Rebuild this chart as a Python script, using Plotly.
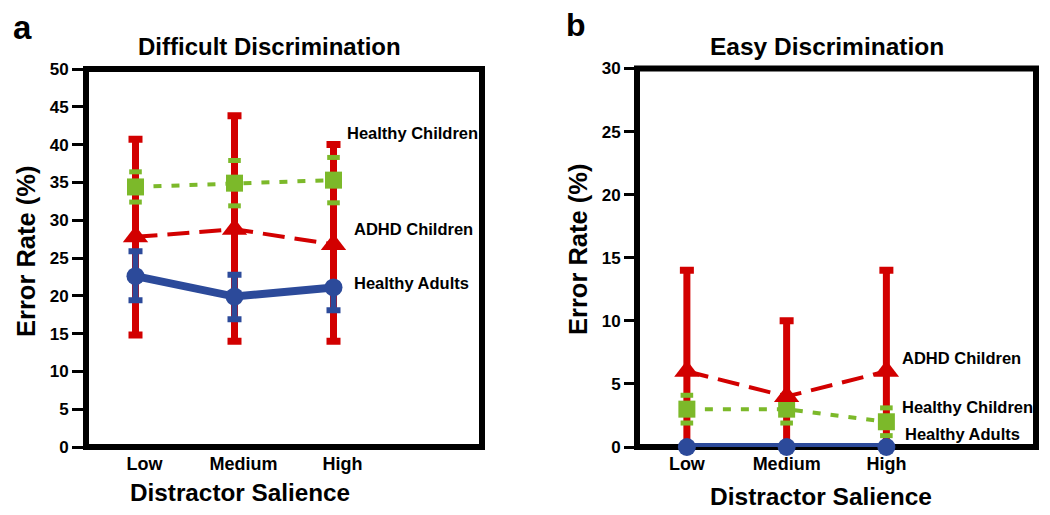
import plotly.graph_objects as go

# ---------------- data ----------------
categories = ["Low", "Medium", "High"]

# Panel a: Difficult Discrimination
hc_diff = [34.4, 34.9, 35.3]
hc_diff_err = [2.0, 3.0, 3.0]
adhd_diff = [27.8, 28.8, 26.8]
adhd_diff_plus = [12.9, 15.0, 13.2]
adhd_diff_minus = [13.0, 14.8, 12.8]
ha_diff = [22.6, 19.9, 21.1]
ha_diff_plus = [3.3, 2.9, 0.0]
ha_diff_minus = [3.2, 3.0, 3.0]

# Panel b: Easy Discrimination
hc_easy = [3.0, 3.0, 2.0]
hc_easy_err = [1.1, 1.1, 1.1]
adhd_easy = [6.0, 4.0, 6.0]
adhd_easy_plus = [8.0, 6.0, 8.0]
adhd_easy_minus = [6.0, 4.0, 6.0]
ha_easy = [0.0, 0.0, 0.0]

y_ticks_a = list(range(0, 51, 5))
y_ticks_b = list(range(0, 31, 5))

RED = "#D20000"
GREEN = "#7CB92A"
BLUE = "#2C4A9A"
FONT = "Liberation Sans"

W, H = 1050, 515
OFF = 8  # page body margin


def px(x):
    return (x - OFF) / W


def py(y):
    return 1 - (y - OFF) / H


fig = go.Figure()


def add_panel(xa, ya, hc, hc_err, adhd, adhd_p, adhd_m, ha, ha_p, ha_m):
    # ADHD error bars (bottom layer)
    fig.add_trace(go.Scatter(
        x=categories, y=adhd, mode="markers", xaxis=xa, yaxis=ya,
        marker=dict(size=1, color="rgba(0,0,0,0)"),
        error_y=dict(type="data", symmetric=False, array=adhd_p, arrayminus=adhd_m,
                     color=RED, thickness=7, width=7),
        showlegend=False, hoverinfo="skip", cliponaxis=False))
    # Healthy children line + squares
    fig.add_trace(go.Scatter(
        x=categories, y=hc, mode="lines+markers", xaxis=xa, yaxis=ya,
        line=dict(color=GREEN, width=4, dash="8px,10px"),
        marker=dict(symbol="square", size=17, color=GREEN),
        showlegend=False, cliponaxis=False))
    # Healthy children caps (dotted error bar ends)
    caps_x = categories + categories
    caps_y = [v + e for v, e in zip(hc, hc_err)] + [v - e for v, e in zip(hc, hc_err)]
    fig.add_trace(go.Scatter(
        x=caps_x, y=caps_y, mode="markers", xaxis=xa, yaxis=ya,
        marker=dict(symbol="line-ew", size=9, line=dict(color=GREEN, width=5)),
        showlegend=False, hoverinfo="skip", cliponaxis=False))
    # Healthy adults
    err = None
    if ha_p is not None:
        err = dict(type="data", symmetric=False, array=ha_p, arrayminus=ha_m,
                   color=BLUE, thickness=6, width=7)
    fig.add_trace(go.Scatter(
        x=categories, y=ha, mode="lines+markers", xaxis=xa, yaxis=ya,
        line=dict(color=BLUE, width=8),
        marker=dict(symbol="circle", size=18, color=BLUE),
        error_y=err, showlegend=False, cliponaxis=False))
    # ADHD line + triangles (top)
    fig.add_trace(go.Scatter(
        x=categories, y=adhd, mode="lines+markers", xaxis=xa, yaxis=ya,
        line=dict(color=RED, width=4, dash="22px,10px"),
        marker=dict(symbol="triangle-up", size=22, color=RED),
        showlegend=False, cliponaxis=False))


add_panel("x", "y", hc_diff, hc_diff_err, adhd_diff, adhd_diff_plus, adhd_diff_minus,
          ha_diff, ha_diff_plus, ha_diff_minus)
add_panel("x2", "y2", hc_easy, hc_easy_err, adhd_easy, adhd_easy_plus, adhd_easy_minus,
          ha_easy, None, None)

tickfont_y = dict(family=FONT, size=17, color="black", weight="bold")
tickfont_x = dict(family=FONT, size=18, color="black", weight="bold")

common_x = dict(type="category", categoryorder="array", categoryarray=categories,
                range=[-0.5, 3.5], showgrid=False, zeroline=False, showline=False,
                ticks="", tickfont=tickfont_x, automargin=False, fixedrange=True,
                ticklabelstandoff=4)
common_y = dict(showgrid=False, zeroline=False, showline=False, ticks="outside",
                tickwidth=3, tickcolor="black", tickfont=tickfont_y, automargin=False,
                fixedrange=True)

fig.update_layout(
    width=W, height=H, autosize=False,
    margin=dict(l=0, r=0, t=0, b=0, pad=0, autoexpand=False),
    paper_bgcolor="white", plot_bgcolor="white",
    xaxis=dict(common_x, domain=[px(86), px(482)], anchor="y", ticklabelshift=9),
    yaxis=dict(common_y, domain=[py(447), py(69)], anchor="x", range=[0, 50],
               tickvals=y_ticks_a, ticklen=13),
    xaxis2=dict(common_x, domain=[px(637), px(1036)], anchor="y2"),
    yaxis2=dict(common_y, domain=[py(447), py(68.5)], anchor="x2", range=[0, 30],
                tickvals=y_ticks_b, ticklen=12),
)

# frames
for xr, yr in (("x domain", "y domain"), ("x2 domain", "y2 domain")):
    fig.add_shape(type="rect", xref=xr, yref=yr, x0=0, x1=1, y0=0, y1=1,
                  line=dict(color="black", width=6), layer="below")

bold = lambda s: dict(family=FONT, size=s, color="black", weight="bold")

ann = []
# panel letters
ann.append(dict(text="a", x=px(11), y=py(28), xanchor="left", yanchor="middle", font=bold(33)))
ann.append(dict(text="b", x=px(564), y=py(25), xanchor="left", yanchor="middle", font=bold(32)))
# titles
ann.append(dict(text="Difficult Discrimination", x=px(269), y=py(46), xanchor="center",
                yanchor="middle", font=bold(24)))
ann.append(dict(text="Easy Discrimination", x=px(827), y=py(46), xanchor="center",
                yanchor="middle", font=bold(24.5)))
# x titles
ann.append(dict(text="Distractor Salience", x=px(240), y=py(492), xanchor="center",
                yanchor="middle", font=bold(24.3)))
ann.append(dict(text="Distractor Salience", x=px(821), y=py(496), xanchor="center",
                yanchor="middle", font=bold(24.5)))
# y titles
ann.append(dict(text="Error Rate (%)", x=px(26), y=py(252), xanchor="center",
                yanchor="middle", textangle=-90, font=bold(25.5)))
ann.append(dict(text="Error Rate (%)", x=px(578), y=py(250), xanchor="center",
                yanchor="middle", textangle=-90, font=bold(25.5)))
for a in ann:
    a.update(xref="paper", yref="paper", showarrow=False)

# series labels (data coordinates)
series_labels = [
    ("x", "y", 2.12, 41.5, "Healthy Children"),
    ("x", "y", 2.19, 28.9, "ADHD Children"),
    ("x", "y", 2.19, 21.7, "Healthy Adults"),
    ("x2", "y2", 2.135, 7.05, "ADHD Children"),
    ("x2", "y2", 2.135, 3.17, "Healthy Children"),
    ("x2", "y2", 2.165, 1.03, "Healthy Adults"),
]
for xr, yr, xv, yv, t in series_labels:
    ann.append(dict(text=t, x=xv, y=yv, xref=xr, yref=yr, xanchor="left",
                    yanchor="middle", showarrow=False, font=bold(16.5)))

fig.update_layout(annotations=ann)
fig.write_html("out.html", config={"displayModeBar": False})
